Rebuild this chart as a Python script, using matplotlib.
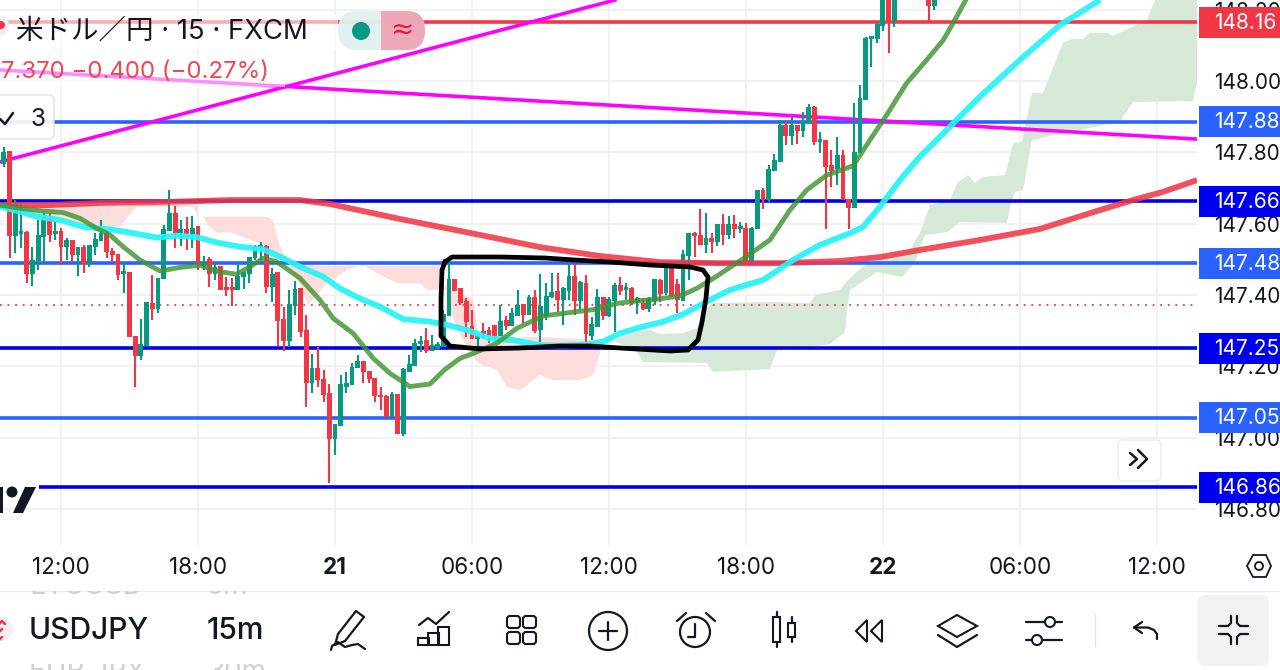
import numpy as np
import matplotlib
matplotlib.use("Agg")
import matplotlib.pyplot as plt
from matplotlib.patches import Rectangle, FancyBboxPatch, Circle, Polygon

plt.rcParams['font.family'] = ['Inter', 'Noto Sans CJK JP', 'DejaVu Sans']

# ---- data ----
# 15 minute bars, first bar at -14.5 h from the 21st 00:00
bar_start = -14.5
bar_hours = 0.25

opens = [147.769,147.802,147.568,147.573,147.575,147.462,147.496,147.565,147.610,147.573,
147.577,147.535,147.551,147.515,147.531,147.490,147.537,147.554,147.573,147.521,
147.512,147.461,147.462,147.283,147.231,147.259,147.376,147.362,147.446,147.582,
147.629,147.577,147.582,147.571,147.590,147.484,147.498,147.461,147.479,147.420,
147.420,147.416,147.451,147.461,147.505,147.533,147.535,147.425,147.461,147.330,
147.274,147.372,147.416,147.299,147.154,147.194,147.163,147.124,146.998,147.035,
147.145,147.150,147.197,147.213,147.185,147.166,147.117,147.115,147.059,147.119,
147.012,147.187,147.203,147.264,147.272,147.245,147.250,147.255,147.344,147.444,
147.418,147.381,147.311,147.278,147.297,147.300,147.313,147.288,147.327,147.316,
147.344,147.372,147.346,147.393,147.303,147.344,147.395,147.409,147.388,147.414,
147.451,147.386,147.430,147.288,147.313,147.393,147.344,147.384,147.425,147.417,
147.418,147.378,147.376,147.362,147.386,147.440,147.406,147.475,147.428,147.386,
147.512,147.571,147.565,147.542,147.559,147.549,147.596,147.570,147.596,147.588,
147.587,147.498,147.587,147.692,147.668,147.750,147.774,147.874,147.849,147.874,
147.861,147.886,147.925,147.831,147.833,147.762,147.755,147.790,147.668,147.647,
147.800,147.950,148.119,148.120,148.157,148.260,148.171,148.280,148.330,148.300,
148.320,148.300,148.250,148.213]
highs = [147.816,147.805,147.666,147.662,147.580,147.535,147.610,147.629,147.629,147.605,
147.587,147.559,147.554,147.531,147.540,147.540,147.573,147.610,147.582,147.531,
147.512,147.493,147.465,147.283,147.332,147.381,147.456,147.446,147.596,147.694,
147.648,147.610,147.618,147.621,147.591,147.509,147.507,147.489,147.479,147.451,
147.447,147.490,147.465,147.507,147.540,147.547,147.540,147.475,147.465,147.367,
147.414,147.440,147.416,147.344,147.234,147.253,147.189,147.150,147.035,147.175,
147.185,147.208,147.231,147.213,147.185,147.166,147.143,147.119,147.129,147.119,
147.194,147.231,147.275,147.285,147.306,147.288,147.269,147.358,147.496,147.446,
147.418,147.390,147.358,147.288,147.320,147.311,147.316,147.372,147.341,147.362,
147.414,147.372,147.400,147.414,147.460,147.432,147.462,147.462,147.421,147.493,
147.489,147.440,147.456,147.339,147.416,147.395,147.395,147.434,147.451,147.434,
147.423,147.395,147.390,147.395,147.446,147.444,147.493,147.479,147.446,147.526,
147.573,147.577,147.640,147.629,147.573,147.598,147.627,147.621,147.624,147.605,
147.603,147.591,147.692,147.699,147.764,147.795,147.891,147.891,147.898,147.874,
147.914,147.935,147.930,147.858,147.833,147.806,147.842,147.806,147.668,147.937,
147.989,148.123,148.123,148.166,148.300,148.300,148.300,148.340,148.360,148.350,
148.370,148.340,148.300,148.280]
lows = [147.760,147.503,147.517,147.531,147.432,147.425,147.470,147.493,147.549,147.554,
147.484,147.498,147.493,147.454,147.461,147.479,147.512,147.552,147.503,147.493,
147.442,147.404,147.283,147.143,147.217,147.259,147.330,147.348,147.446,147.582,
147.531,147.537,147.526,147.531,147.470,147.470,147.423,147.442,147.414,147.397,
147.369,147.414,147.416,147.434,147.498,147.498,147.406,147.381,147.257,147.244,
147.255,147.344,147.283,147.085,147.124,147.143,147.100,146.873,146.951,147.032,
147.124,147.147,147.194,147.152,147.152,147.100,147.077,147.057,147.057,147.010,
147.004,147.185,147.201,147.241,147.238,147.245,147.245,147.255,147.344,147.414,
147.372,147.283,147.278,147.257,147.278,147.264,147.273,147.288,147.302,147.313,
147.344,147.320,147.344,147.294,147.269,147.330,147.390,147.353,147.316,147.386,
147.344,147.358,147.269,147.273,147.311,147.330,147.339,147.297,147.400,147.386,
147.372,147.346,147.358,147.353,147.372,147.381,147.400,147.395,147.350,147.386,
147.442,147.507,147.540,147.517,147.517,147.537,147.540,147.556,147.559,147.573,
147.484,147.498,147.587,147.640,147.662,147.750,147.774,147.821,147.821,147.823,
147.844,147.883,147.821,147.799,147.584,147.704,147.708,147.668,147.584,147.647,
147.800,147.950,148.040,148.106,148.141,148.079,148.152,148.260,148.280,148.270,
148.290,148.270,148.166,148.199]
closes = [147.799,147.568,147.652,147.577,147.462,147.496,147.565,147.610,147.571,147.577,
147.535,147.551,147.515,147.531,147.489,147.537,147.554,147.573,147.521,147.514,
147.458,147.464,147.283,147.231,147.259,147.378,147.362,147.446,147.584,147.629,
147.577,147.582,147.571,147.587,147.489,147.489,147.461,147.475,147.416,147.417,
147.416,147.451,147.461,147.505,147.535,147.537,147.425,147.456,147.330,147.274,
147.372,147.414,147.299,147.154,147.194,147.163,147.122,146.998,147.035,147.147,
147.152,147.197,147.213,147.185,147.166,147.119,147.115,147.059,147.119,147.012,
147.189,147.203,147.264,147.269,147.245,147.257,147.259,147.344,147.442,147.414,
147.378,147.325,147.278,147.283,147.292,147.288,147.288,147.325,147.316,147.346,
147.369,147.346,147.393,147.302,147.367,147.395,147.407,147.388,147.416,147.451,
147.384,147.434,147.292,147.316,147.393,147.344,147.386,147.425,147.414,147.420,
147.378,147.388,147.362,147.388,147.442,147.404,147.479,147.400,147.388,147.512,
147.571,147.567,147.542,147.559,147.549,147.596,147.570,147.596,147.587,147.591,
147.498,147.587,147.692,147.668,147.752,147.776,147.874,147.849,147.874,147.861,
147.886,147.925,147.830,147.834,147.762,147.750,147.790,147.668,147.647,147.800,
147.950,148.120,148.123,148.157,148.260,148.171,148.270,148.330,148.300,148.320,
148.300,148.320,148.213,148.250]

# moving averages (hours, price)
green_h = [-14.67,-13.80,-12.77,-11.90,-11.17,-10.44,-9.85,-9.27,-8.54,-7.66,-6.79,-5.91,-5.04,-4.31,-3.72,-3.14,-2.55,-1.53,-0.66,-0.07,0.80,1.68,2.41,3.28,4.16,4.82,5.48,6.06,7.08,7.96,9.12,10.59,11.46,12.34,13.21,14.09,15.11,15.84,16.57,17.89,19.05,19.93,20.66,21.54,22.70,23.43,24.17,25.04,25.92,26.65,27.23,27.67,28.0]
green_p = [147.652,147.643,147.635,147.631,147.615,147.587,147.568,147.535,147.498,147.467,147.477,147.483,147.465,147.458,147.479,147.503,147.493,147.447,147.386,147.334,147.292,147.222,147.180,147.143,147.150,147.191,147.222,147.236,147.264,147.306,147.341,147.353,147.360,147.376,147.383,147.388,147.397,147.418,147.446,147.502,147.554,147.638,147.694,147.736,147.762,147.834,147.905,147.994,148.059,148.115,148.180,148.232,148.280]
cyan_h = [-14.67,-13.80,-13.07,-12.04,-11.02,-9.85,-8.83,-7.81,-6.93,-6.06,-5.18,-4.16,-3.14,-2.26,-1.53,-0.51,0.22,1.09,1.97,2.99,4.16,4.89,5.77,6.79,7.81,8.98,10.00,11.02,11.75,12.48,13.36,14.38,15.26,16.28,17.30,18.76,20.07,21.24,22.56,23.14,23.87,24.75,25.62,26.35,27.23,28.25,30.0,31.76,33.51]
cyan_p = [147.648,147.634,147.620,147.610,147.591,147.584,147.573,147.561,147.566,147.562,147.547,147.535,147.528,147.503,147.479,147.451,147.418,147.390,147.367,147.332,147.325,147.316,147.302,147.278,147.273,147.259,147.258,147.261,147.269,147.292,147.309,147.325,147.346,147.381,147.414,147.442,147.498,147.540,147.573,147.591,147.647,147.722,147.788,147.834,147.891,147.956,148.059,148.157,148.227]
red_h = [-14.67,-12.48,-10.29,-7.23,-4.60,-1.53,-0.22,2.85,5.91,8.98,11.61,14.24,16.86,19.49,22.12,23.87,25.62,28.25,30.88,33.51,34.95,36.27,37.76]
red_p = [147.652,147.652,147.658,147.661,147.666,147.666,147.655,147.613,147.574,147.534,147.509,147.492,147.489,147.489,147.495,147.506,147.526,147.554,147.585,147.638,147.666,147.689,147.722]

# trend lines
trend_up_h = [-14.67, 12.26]
trend_up_p = [147.773, 148.227]
trend_down_h = [-14.67, 37.76]
trend_down_p = [148.031, 147.837]

# horizontal levels
level_prices = [148.165, 147.885, 147.663, 147.489, 147.251, 147.055, 146.861]
level_labels = ["148.16", "147.88", "147.66", "147.48", "147.25", "147.05", "146.86"]
level_colors = ["#f23645", "#2962ff", "#0000f0", "#2962ff", "#0000f0", "#2962ff", "#0000f0"]
level_start = [-14.67, -14.67, -14.67, -14.67, -14.67, -14.67, -12.97]
last_price = 147.372

# ichimoku cloud outlines
red1_h = [-13.80,-6.00,-6.00,-6.22,-6.79,-7.67,-8.67,-9.07,-9.42,-10.29,-11.74,-12.79,-13.67,-13.80]
red1_p = [147.652,147.652,147.624,147.647,147.647,147.647,147.647,147.619,147.590,147.596,147.604,147.610,147.619,147.647]
red2_h = [-5.78,-2.98,-2.72,-2.50,-2.19,-2.54,-3.15,-4.03,-4.60,-5.17,-5.48]
red2_p = [147.619,147.619,147.610,147.554,147.504,147.512,147.540,147.562,147.576,147.574,147.590]
red3_h = [-2.32,-1.97,-0.66,4.60,4.73,5.26,6.04,6.22,6.35,8.98,11.61,11.61,11.30,10.73,9.55,8.98,8.10,7.53,7.10,6.26,5.83,5.39,5.04,4.91,4.03,3.72,2.72,1.84,1.23,0.53,-0.35,-0.88,-1.18,-1.53]
red3_p = [147.506,147.492,147.481,147.481,147.428,147.408,147.391,147.310,147.279,147.282,147.273,147.237,147.175,147.161,147.161,147.175,147.133,147.142,147.189,147.209,147.245,147.302,147.358,147.414,147.414,147.433,147.433,147.461,147.484,147.470,147.433,147.394,147.372,147.428]
green_up_h = [12.18,13.05,13.80,14.24,15.24,15.86,16.29,16.56,19.05,20.81,21.03,22.12,22.47,23.30,25.19,25.62,26.06,26.94,27.25,27.73,28.03,28.38,29.35,29.70,30.09,30.53,31.01,31.89,32.28,32.76,33.07,33.82,34.08,34.82,35.57,35.92,37.76]
green_up_p = [147.273,147.293,147.302,147.290,147.293,147.307,147.366,147.377,147.380,147.377,147.400,147.414,147.442,147.489,147.526,147.574,147.652,147.666,147.714,147.736,147.714,147.731,147.736,147.826,147.829,147.966,147.966,148.107,148.118,148.118,148.135,148.135,148.126,148.149,148.171,148.227,148.283]
green_lo_h = [12.18,13.23,13.49,16.29,16.56,19.05,19.36,21.68,22.34,22.47,22.56,23.74,24.84,25.41,25.84,26.81,27.38,29.43,29.65,29.79,30.14,30.53,31.54,34.38,34.95,37.58,37.76]
green_lo_p = [147.273,147.240,147.212,147.209,147.184,147.192,147.245,147.262,147.296,147.377,147.414,147.464,147.450,147.492,147.568,147.576,147.604,147.602,147.666,147.689,147.694,147.834,147.849,147.885,147.941,147.944,147.994]

# axis ticks
x_ticks = [-12, -6, 0, 6, 12, 18, 24, 30, 36]
x_labels = ["12:00", "18:00", "21", "06:00", "12:00", "18:00", "22", "06:00", "12:00"]
y_ticks = [148.2, 148.0, 147.8, 147.6, 147.4, 147.2, 147.0, 146.8]
y_labels = ["148.20", "148.00", "147.80", "147.60", "147.40", "147.20", "147.00", "146.80"]

INK = "#131722"
UP = "#089981"
DOWN = "#f23645"

# ---- chart ----
fig = plt.figure(figsize=(12.8, 6.7), dpi=100, facecolor="white")
ax = fig.add_axes([0, 125/670, 1197/1280, 545/670])
ax.set_xlim(-14.67, 37.76)
ax.set_ylim(146.6985, 148.2272)
for s in ax.spines.values():
    s.set_visible(False)

ax.set_xticks(x_ticks)
ax.set_xticklabels(x_labels, fontsize=16.2, color=INK)
for lab in ax.get_xticklabels():
    if lab.get_text() in ("21", "22"):
        lab.set_fontweight("bold")
ax.yaxis.tick_right()
ax.set_yticks(y_ticks)
ax.set_yticklabels(y_labels, fontsize=15, color=INK)
ax.tick_params(axis="both", length=0)
ax.tick_params(axis="x", pad=9)
ax.tick_params(axis="y", pad=12.2)
ax.grid(color="#f0f0f0", lw=1.2, zorder=0)
ax.set_axisbelow(True)

# clouds
for hh, pp in [(red1_h, red1_p), (red2_h, red2_p), (red3_h, red3_p)]:
    ax.fill(hh, pp, color="#fddcdc", lw=0, zorder=1)
ax.fill(green_up_h + green_lo_h[::-1], green_up_p + green_lo_p[::-1], color="#d6e9d8", lw=0, zorder=1)

# levels and trend lines
ax.axhline(last_price, color=DOWN, lw=1.3, ls=(0, (1, 3.2)), zorder=2)
for p, c, st in zip(level_prices, level_colors, level_start):
    ax.plot([st, 37.76], [p, p], color=c, lw=2.6, solid_capstyle="butt", zorder=2)
ax.plot(trend_up_h, trend_up_p, color="#ff00ff", lw=2.6, zorder=2.5)
ax.plot(trend_down_h, trend_down_p, color="#ff00ff", lw=2.6, zorder=2.5)

# candles
o = np.array(opens)
h = np.array(highs)
l = np.array(lows)
c = np.array(closes)
t = bar_start + bar_hours * np.arange(len(o))
cols = np.where(c >= o, UP, DOWN)
ax.vlines(t, l, h, colors=cols, lw=1.5, zorder=3)
ax.bar(t, np.abs(c - o) + 0.004, bottom=np.minimum(o, c) - 0.002, width=bar_hours * 0.84, color=cols, lw=0, zorder=3)

# moving averages
ax.plot(red_h, red_p, color="#f23645", lw=4.2, alpha=0.88, zorder=4, solid_capstyle="butt")
ax.plot(cyan_h, cyan_p, color="#22f4f8", lw=4.2, alpha=0.92, zorder=4, solid_capstyle="butt")
ax.plot(green_h, green_p, color="#3f9433", lw=3.5, alpha=0.82, zorder=4.5, solid_capstyle="butt")

# ---- overlay in pixels for the app chrome ----
ov = fig.add_axes([0, 0, 1, 1], zorder=5)
ov.set_xlim(0, 1280)
ov.set_ylim(670, 0)
ov.axis("off")
ov.patch.set_alpha(0)


def y_px(p):
    return 81 + (148 - p) * 356.5


def line(xs, ys, col=INK, lw=1.6):
    ov.plot(xs, ys, color=col, lw=lw, solid_capstyle="round", solid_joinstyle="round")


# hand drawn box
box_x = [445,452,500,545,575,610,650,690,703,708,706,702,698,688,670,620,590,560,520,480,450,441,441,442,445]
box_y = [262,257,257,258,260,262,265,267,270,277,298,322,340,350,351,348,346,346,348,349,346,336,300,270,262]
ov.plot(box_x, box_y, color="black", lw=3.4, solid_joinstyle="round")

# price labels over the axis
for p, lab, col in zip(level_prices, level_labels, level_colors):
    yy = y_px(p)
    ov.add_patch(Rectangle((1199, yy - 15.5), 81, 31, fc=col, ec="none"))
    ov.text(1214, yy + 0.5, lab, color="white", fontsize=15, va="center", ha="left")

# header, faded lines under the legend
ov.add_patch(Rectangle((0, 14), 338, 36, fc="white", ec="none", alpha=0.6))
ov.add_patch(Rectangle((0, 58), 285, 29, fc="white", ec="none", alpha=0.55))
ov.add_patch(Circle((-1, 26), 10, fc="#eef0f5", ec="none"))
ov.add_patch(Circle((1, 25), 4, fc=DOWN, ec="none"))
ov.text(16, 32, "米ドル／円 · 15 · FXCM", fontsize=19.8, color=INK, va="center", ha="left")
ov.text(1, 72, "7.370 −0.400 (−0.27%)", fontsize=17.3, color="#f0474f", va="center", ha="left")

ov.add_patch(FancyBboxPatch((338, 11), 87, 39, boxstyle="round,pad=0,rounding_size=19", fc="#dff2ef", ec="none", alpha=0.95))
rp = FancyBboxPatch((338, 11), 87, 39, boxstyle="round,pad=0,rounding_size=19", fc="#eda3b6", ec="none", alpha=0.95)
ov.add_patch(rp)
rp.set_clip_path(Rectangle((381, 0), 60, 60, transform=ov.transData))
ov.add_patch(Circle((361, 31), 9, fc=UP, ec="none"))
ov.text(402, 30, "≈", fontsize=20, color="#e0183c", va="center", ha="center", family="DejaVu Sans")

ov.add_patch(FancyBboxPatch((-12, 95), 66, 44, boxstyle="round,pad=0,rounding_size=5", fc="white", ec="#e0e0e0", lw=1, alpha=0.9))
line([0, 5, 13], [119, 124, 113], lw=1.8)
ov.text(38, 119, "3", fontsize=17.5, color=INK, va="center", ha="center")

# tradingview mark
ov.add_patch(Rectangle((0, 487), 3, 26, fc="#131722", ec="none"))
ov.add_patch(Circle((12, 492), 5.5, fc="#131722", ec="none"))
ov.add_patch(Polygon([(25, 487), (36, 487), (23, 513), (13, 513)], fc="#131722", ec="none"))

# scroll button
ov.add_patch(FancyBboxPatch((1118, 440), 43, 41, boxstyle="round,pad=0,rounding_size=5", fc="white", ec="#efefef", lw=1.2))
line([1130, 1137, 1130], [453, 459, 465], lw=1.8)
line([1138, 1147, 1138], [450, 459, 468], lw=1.8)

# settings hexagon
ov.add_patch(Polygon([(1247, 566), (1253, 555), (1266, 555), (1271, 566), (1266, 577), (1253, 577)], fc="none", ec=INK, lw=1.3))
ov.add_patch(Circle((1259, 566), 4, fc="none", ec=INK, lw=1.3))

# bottom bar, rows of the list cut off behind it
ov.plot([0, 1280], [590.5, 590.5], color="#ececec", lw=1)
ghost_top = Rectangle((0, 591), 400, 12, transform=ov.transData)
ghost_bot = Rectangle((0, 664), 400, 10, transform=ov.transData)
for txt, xx, yy, clip in [("ETCUSD", 29, 587, ghost_top), ("5m", 207, 587, ghost_top), ("EUR JPY", 29, 672, ghost_bot), ("30m", 207, 672, ghost_bot)]:
    g = ov.text(xx, yy, txt, fontsize=20, color="#d0d0d0", va="center", ha="left")
    g.set_clip_path(clip)
    g.set_clip_on(True)
ov.add_patch(Circle((1, 629), 12, fc="#eef0f5", ec="none"))
line([-1, 2, 5], [624, 621, 624], col=DOWN, lw=1.8)
line([-1, 2], [632, 629], col=DOWN, lw=1.8)
line([-1, 2], [640, 637], col=DOWN, lw=1.8)
ov.text(29, 631, "USDJPY", fontsize=21.6, color=INK, va="center", ha="left", fontweight="medium")
ov.text(207, 631, "15m", fontsize=21.6, color=INK, va="center", ha="left", fontweight="medium")

# pen
line([338, 356, 364, 345, 335, 338], [634, 611, 617, 641, 645, 634])
line([331, 332, 338, 345, 352, 358, 365], [650, 646, 642, 647, 645, 644, 649])
# chart
line([419, 428, 436, 449], [625, 618, 624, 612])
for bx, bt in zip([418, 428, 438], [638, 633, 627]):
    ov.add_patch(Rectangle((bx, bt), 10.5, 645 - bt, fc="none", ec=INK, lw=1.5))
# grid
for gx in (507, 523):
    for gy in (616, 632):
        ov.add_patch(FancyBboxPatch((gx, gy), 13, 12, boxstyle="round,pad=0,rounding_size=3", fc="none", ec=INK, lw=1.5))
# plus
ov.add_patch(Circle((608, 631), 19, fc="none", ec=INK, lw=1.6))
line([599, 617], [631, 631])
line([608, 608], [622, 640])
# alarm
ov.add_patch(Circle((695, 632), 15, fc="none", ec=INK, lw=1.6))
line([695, 695, 688], [624, 637, 637])
line([677, 686], [621, 613])
line([706, 715], [613, 621])
# candles
ov.add_patch(Rectangle((773, 617), 7, 25, fc="none", ec=INK, lw=1.5))
line([776.5, 776.5], [612, 617])
line([776.5, 776.5], [642, 647])
ov.add_patch(Rectangle((788, 623), 7, 14, fc="none", ec=INK, lw=1.5))
line([791.5, 791.5], [617, 623])
line([791.5, 791.5], [637, 642])
# rewind
ov.add_patch(Polygon([(867, 620), (867, 642), (856, 631)], fc="none", ec=INK, lw=1.5))
ov.add_patch(Polygon([(882, 620), (882, 642), (871, 631)], fc="none", ec=INK, lw=1.5))
# layers
ov.add_patch(Polygon([(957, 615), (977, 626), (957, 637), (938, 626)], fc="none", ec=INK, lw=1.5))
line([938, 957, 977], [635, 647, 635])
# sliders
line([1026, 1045], [622, 622])
line([1056, 1062], [622, 622])
ov.add_patch(Circle((1050, 622), 5, fc="none", ec=INK, lw=1.5))
line([1026, 1032], [640, 640])
line([1043, 1062], [640, 640])
ov.add_patch(Circle((1037, 640), 5, fc="none", ec=INK, lw=1.5))
ov.plot([1095, 1095], [614, 646], color="#e6e6e6", lw=1)
# undo
line([1142, 1134, 1142], [622, 627.5, 633])
line([1134, 1148, 1154, 1157, 1157], [627.5, 627.5, 630, 634, 639])
# compress button
ov.add_patch(FancyBboxPatch((1197, 595), 72, 71, boxstyle="round,pad=0,rounding_size=9", fc="#f2f2f2", ec="none"))
line([1219, 1228, 1231, 1231], [626, 626, 623, 616])
line([1237, 1237, 1240, 1248], [616, 623, 626, 626])
line([1219, 1228, 1231, 1231], [634, 634, 637, 644])
line([1237, 1237, 1240, 1248], [644, 637, 634, 634])

fig.savefig("out.png", dpi=100)
